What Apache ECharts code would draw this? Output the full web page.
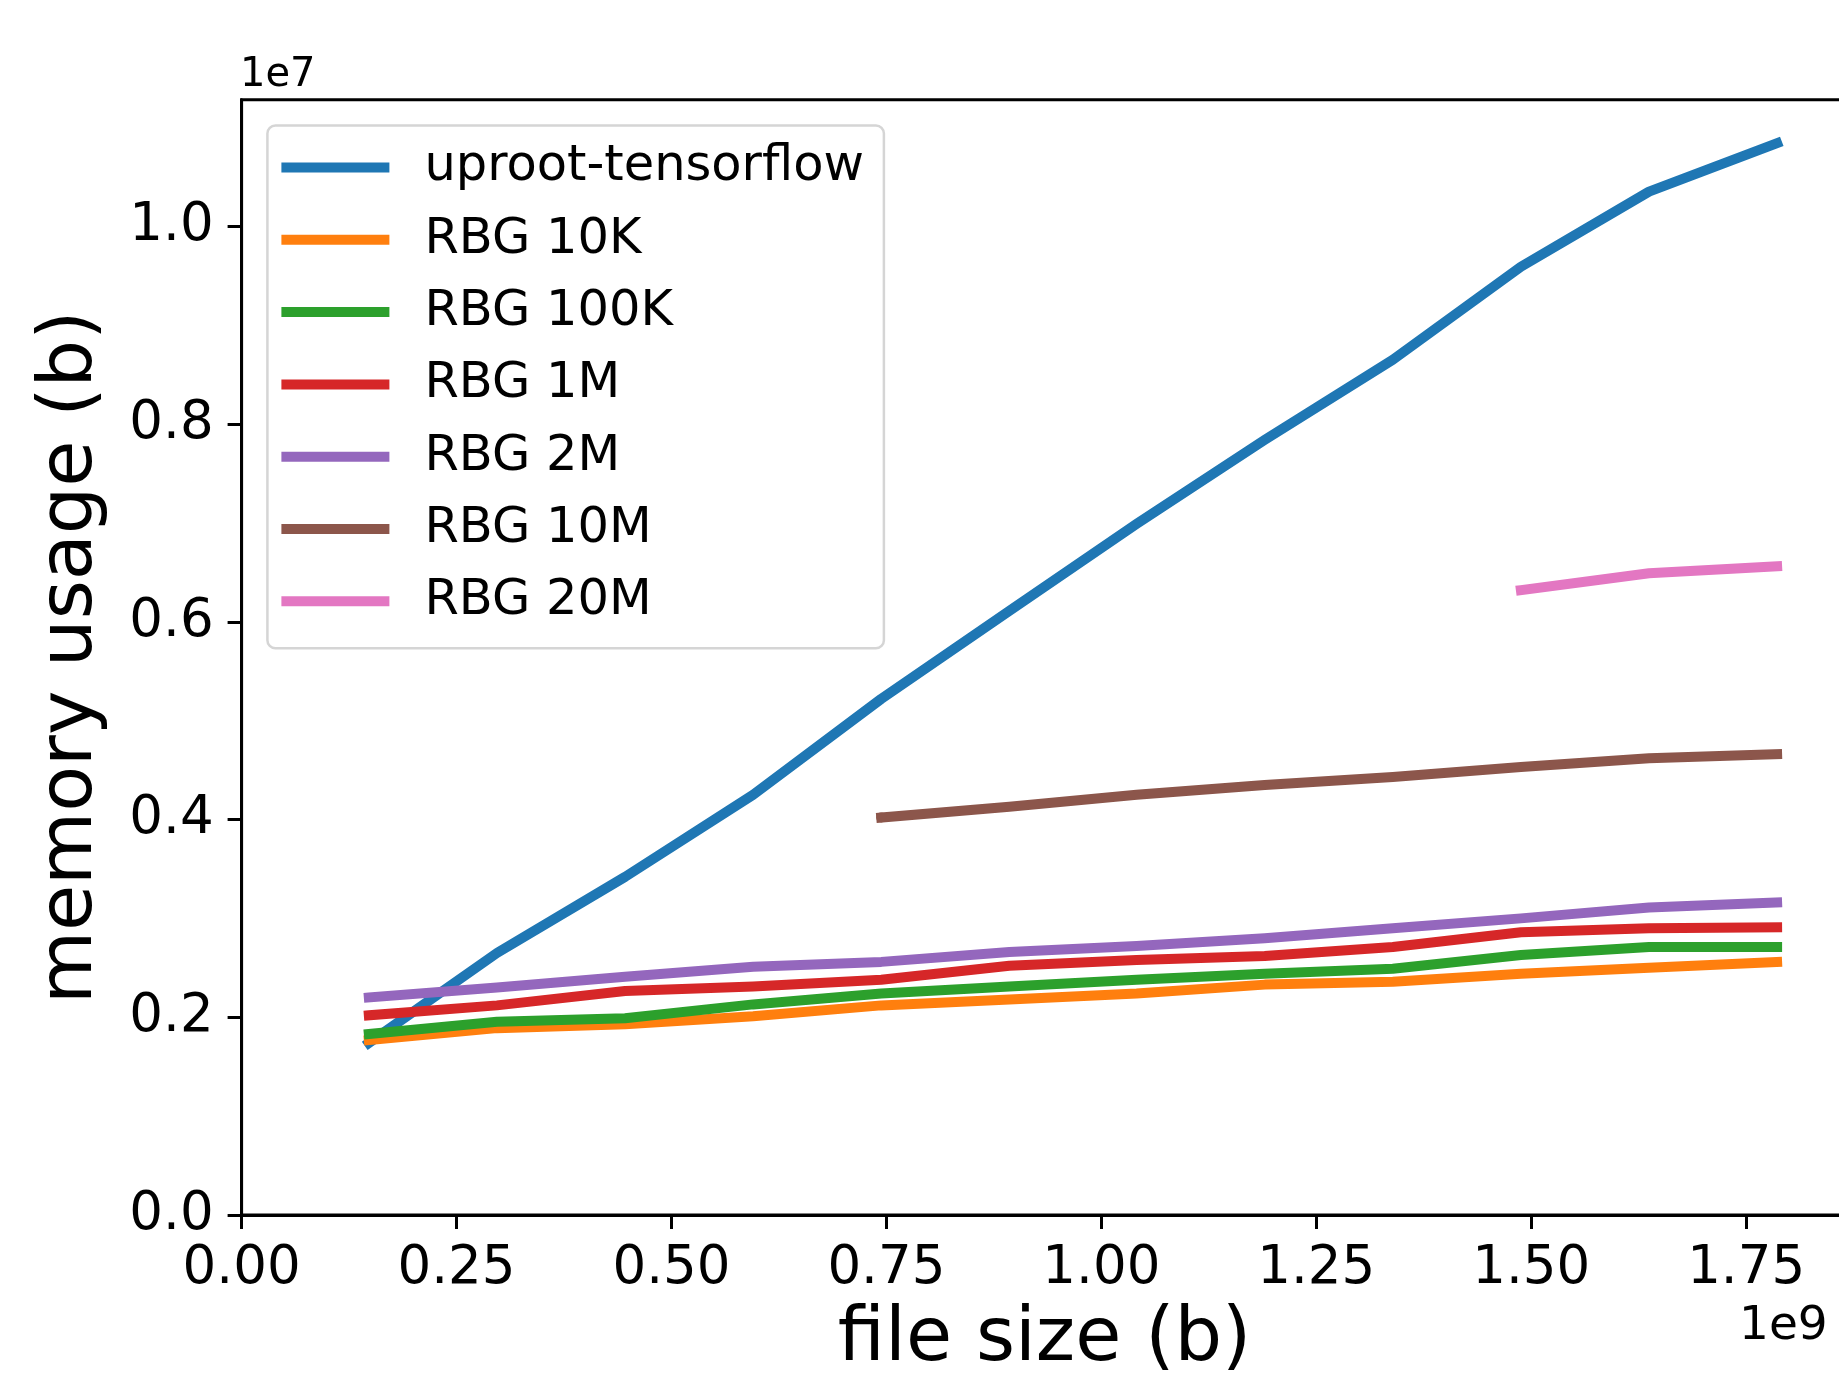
<!DOCTYPE html>
<html>
<head>
<meta charset="utf-8">
<script src="https://cdn.jsdelivr.net/npm/echarts@6/dist/echarts.min.js"></script>
<style>
html,body{margin:0;padding:0;background:#ffffff;}
#chart{width:1839px;height:1376px;}
</style>
</head>
<body>
<div id="chart"></div>
<script>
// ---- data (bytes) ----
const fileSizes = [0.148e9, 0.297e9, 0.446e9, 0.595e9, 0.744e9, 0.893e9, 1.041e9, 1.190e9, 1.339e9, 1.488e9, 1.637e9, 1.786e9];
const uprootTensorflow = [1.74e6, 2.65e6, 3.42e6, 4.25e6, 5.22e6, 6.11e6, 6.99e6, 7.84e6, 8.65e6, 9.59e6, 10.35e6, 10.84e6];
const rbg10K  = [1.77e6, 1.89e6, 1.93e6, 2.01e6, 2.12e6, 2.18e6, 2.24e6, 2.33e6, 2.36e6, 2.44e6, 2.50e6, 2.56e6];
const rbg100K = [1.83e6, 1.955e6, 1.99e6, 2.13e6, 2.24e6, 2.31e6, 2.38e6, 2.44e6, 2.49e6, 2.63e6, 2.71e6, 2.71e6];
const rbg1M   = [2.02e6, 2.12e6, 2.265e6, 2.31e6, 2.38e6, 2.52e6, 2.58e6, 2.62e6, 2.71e6, 2.86e6, 2.90e6, 2.91e6];
const rbg2M   = [2.20e6, 2.30e6, 2.41e6, 2.51e6, 2.56e6, 2.66e6, 2.72e6, 2.80e6, 2.90e6, 3.00e6, 3.11e6, 3.16e6];
const rbg10M  = [null, null, null, null, 4.02e6, 4.13e6, 4.25e6, 4.35e6, 4.43e6, 4.53e6, 4.62e6, 4.66e6];
const rbg20M  = [null, null, null, null, null, null, null, null, null, 6.32e6, 6.49e6, 6.56e6];

const seriesNames = ['uproot-tensorflow', 'RBG 10K', 'RBG 100K', 'RBG 1M', 'RBG 2M', 'RBG 10M', 'RBG 20M'];
const seriesValues = [uprootTensorflow, rbg10K, rbg100K, rbg1M, rbg2M, rbg10M, rbg20M];
const seriesColors = ['#1f77b4', '#ff7f0e', '#2ca02c', '#d62728', '#9467bd', '#8c564b', '#e377c2'];

const xTicks = [0, 0.25e9, 0.5e9, 0.75e9, 1.0e9, 1.25e9, 1.5e9, 1.75e9];
const yTicks = [0, 0.2e7, 0.4e7, 0.6e7, 0.8e7, 1.0e7];
const xMax = 1.868e9;
const yMax = 1.128e7;

const FONT = 'DejaVu Sans';

function buildData(values, roundStart) {
  const out = [];
  let first = true;
  for (let i = 0; i < fileSizes.length; i++) {
    if (values[i] == null) continue;
    if (first && roundStart) {
      out.push({ value: [fileSizes[i], values[i]], symbol: 'circle', symbolSize: 10 });
    } else {
      out.push([fileSizes[i], values[i]]);
    }
    first = false;
  }
  return out;
}

const series = seriesNames.map((name, i) => ({
  type: 'line',
  name: name,
  data: buildData(seriesValues[i], name === 'RBG 10M'),
  symbol: 'none',
  showSymbol: name === 'RBG 10M',
  silent: true,
  animation: false,
  color: seriesColors[i],
  itemStyle: { color: seriesColors[i] },
  lineStyle: { width: 10, color: seriesColors[i], cap: 'square', join: 'round' },
  z: 2 + i
}));

const chart = echarts.init(document.getElementById('chart'), null, { renderer: 'canvas' });
chart.setOption({
  backgroundColor: '#ffffff',
  animation: false,
  textStyle: { fontFamily: FONT },
  grid: {
    left: 241.6, top: 99.7, width: 1606, height: 1115.3,
    containLabel: false, outerBoundsMode: 'none',
    show: true, borderColor: '#000000', borderWidth: 3, backgroundColor: 'transparent'
  },
  legend: {
    orient: 'vertical',
    left: 267.4, top: 125.5,
    padding: [17, 20, 22, 14],
    itemWidth: 108, itemHeight: 10, itemGap: 22.3,
    icon: 'rect',
    selectedMode: false,
    backgroundColor: '#ffffff',
    borderColor: '#d5d5d5', borderWidth: 2.5, borderRadius: 8,
    textStyle: { fontFamily: FONT, fontSize: 49.5, lineHeight: 50, color: '#000000', padding: [0, 0, 0, 30] },
    data: seriesNames
  },
  xAxis: {
    type: 'value', min: 0, max: xMax,
    name: 'file size (b)', nameLocation: 'middle', nameGap: 88,
    nameTextStyle: { fontFamily: FONT, fontSize: 75, color: '#000000' },
    axisLine: { show: true, onZero: false, lineStyle: { color: '#000000', width: 3 } },
    axisTick: { show: true, length: 14, lineStyle: { color: '#000000', width: 3 }, customValues: xTicks },
    axisLabel: { customValues: xTicks, margin: 28, fontFamily: FONT, fontSize: 53, color: '#000000',
      formatter: v => (v / 1e9).toFixed(2) },
    splitLine: { show: false }
  },
  yAxis: {
    type: 'value', min: 0, max: yMax,
    name: 'memory usage (b)', nameLocation: 'middle', nameGap: 133, nameRotate: 90,
    nameTextStyle: { fontFamily: FONT, fontSize: 75, color: '#000000' },
    axisLine: { show: true, onZero: false, lineStyle: { color: '#000000', width: 3 } },
    axisTick: { show: true, length: 14, lineStyle: { color: '#000000', width: 3 }, customValues: yTicks },
    axisLabel: { customValues: yTicks, margin: 28, fontFamily: FONT, fontSize: 53, color: '#000000',
      formatter: v => (v / 1e7).toFixed(1) },
    splitLine: { show: false }
  },
  graphic: [
    { type: 'text', left: 240, top: 55.5, silent: true,
      style: { text: '1e7', font: '40px "DejaVu Sans"', fill: '#000000' } },
    { type: 'text', left: 1739, top: 1303, silent: true,
      style: { text: '1e9', font: '47px "DejaVu Sans"', fill: '#000000' } }
  ],
  series: series
});
</script>
</body>
</html>
